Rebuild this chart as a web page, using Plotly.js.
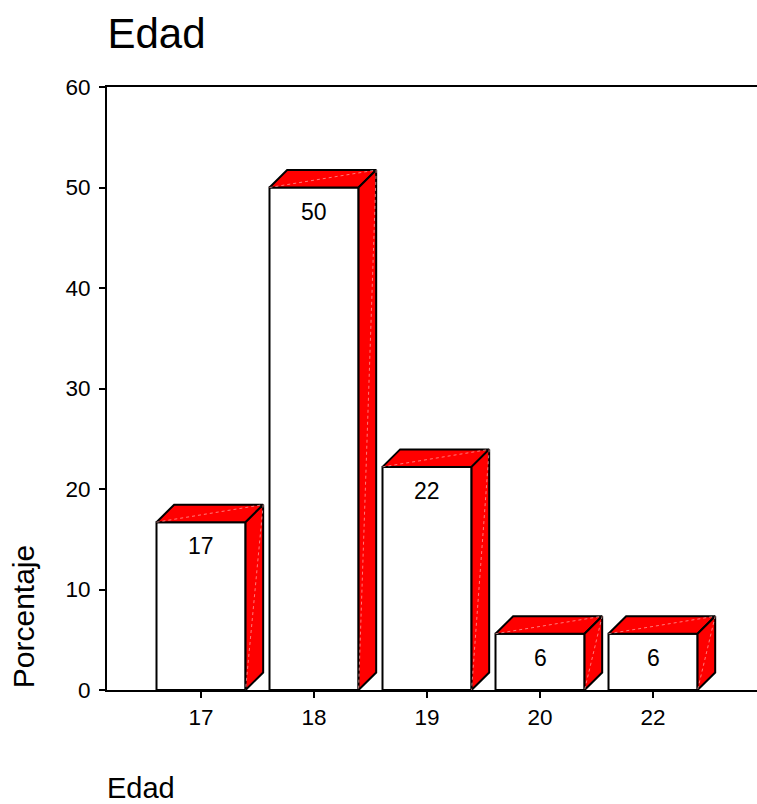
<!DOCTYPE html>
<html>
<head>
<meta charset="utf-8">
<script src="https://cdn.plot.ly/plotly-3.0.1.min.js"></script>
<style>html,body{margin:0;padding:0;background:#fff;}#chart{width:757px;height:804px;}</style>
</head>
<body>
<div id="chart"></div>
<script>
// Data
const categories = ['17', '18', '19', '20', '22'];
const percentages = [16.7, 50.0, 22.2, 5.6, 5.6];
const barLabels = ['17', '50', '22', '6', '6'];
const yTicks = [0, 10, 20, 30, 40, 50, 60];

// Geometry (styling of the pseudo-3D bars)
const W = 0.788;   // front face width (category units)
const DX = 0.156;  // depth offset x (category units)
const DY = 1.74;   // depth offset y (value units)
const FONT = 'Arial, "Liberation Sans", sans-serif';

const idx = categories.map((c, i) => i);

const topX = [], topY = [], sideX = [], sideY = [];
const hlX = [], hlY = [];
idx.forEach(i => {
  const v = percentages[i];
  const l = i - W / 2, r = i + W / 2;
  topX.push(l, l + DX, r + DX, r, l, null);
  topY.push(v, v + DY, v + DY, v, v, null);
  sideX.push(r, r + DX, r + DX, r, r, null);
  sideY.push(v, v + DY, DY, 0, v, null);
  hlX.push(l, r + DX, r, null);
  hlY.push(v, v + DY, 0, null);
});

const traces = [
  {
    type: 'bar', x: idx, y: percentages, width: W,
    marker: {color: '#ffffff', line: {color: '#000000', width: 2}},
    hoverinfo: 'skip', showlegend: false
  },
  {
    type: 'scatter', mode: 'lines', x: topX, y: topY, fill: 'toself',
    fillcolor: '#ff0000', line: {color: '#000000', width: 2},
    connectgaps: false, hoverinfo: 'skip', showlegend: false
  },
  {
    type: 'scatter', mode: 'lines', x: sideX, y: sideY, fill: 'toself',
    fillcolor: '#ff0000', line: {color: '#000000', width: 2},
    connectgaps: false, hoverinfo: 'skip', showlegend: false
  },
  {
    type: 'scatter', mode: 'lines', x: hlX, y: hlY,
    line: {color: 'rgba(255,170,170,0.9)', width: 0.8, dash: 'dot'},
    connectgaps: false, hoverinfo: 'skip', showlegend: false
  }
];

const annotations = idx.map(i => ({
  x: i, y: percentages[i], xref: 'x', yref: 'y',
  text: barLabels[i], showarrow: false,
  xanchor: 'center', yanchor: 'top', yshift: -9,
  font: {family: FONT, size: 23, color: '#000'}
}));
annotations.push({
  text: 'Porcentaje', textangle: -90, showarrow: false,
  xref: 'paper', yref: 'paper', x: -0.128, y: 0.122,
  xanchor: 'center', yanchor: 'middle',
  font: {family: FONT, size: 30, color: '#000'}
});
annotations.push({
  text: 'Edad', showarrow: false,
  xref: 'paper', yref: 'paper', x: -0.003, y: -0.163,
  xanchor: 'left', yanchor: 'middle',
  font: {family: FONT, size: 29, color: '#000'}
});

const layout = {
  width: 757, height: 804,
  margin: {l: 107, r: 0, t: 87, b: 114, pad: 0},
  paper_bgcolor: '#ffffff', plot_bgcolor: '#ffffff',
  title: {
    text: 'Edad', x: 0.142, xanchor: 'left', xref: 'container',
    y: 0.958, yanchor: 'middle', yref: 'container',
    font: {family: FONT, size: 42, color: '#000'}
  },
  xaxis: {
    range: [-0.832, 4.92], tickmode: 'array', tickvals: idx, ticktext: categories,
    showgrid: false, zeroline: false, showline: true, mirror: true,
    linecolor: '#000', linewidth: 2, ticks: 'outside', ticklen: 6, tickwidth: 2,
    tickcolor: '#000', tickfont: {family: FONT, size: 22.5, color: '#000'},
    fixedrange: true
  },
  yaxis: {
    range: [0, 60], tickmode: 'array', tickvals: yTicks,
    showgrid: false, zeroline: false, showline: true, mirror: false,
    linecolor: '#000', linewidth: 2, ticks: 'outside', ticklen: 6, tickwidth: 2,
    tickcolor: '#000', tickfont: {family: FONT, size: 22.5, color: '#000'},
    ticklabelstandoff: 4, fixedrange: true
  },
  annotations: annotations,
  showlegend: false,
  bargap: 0
};

Plotly.newPlot('chart', traces, layout, {displayModeBar: false, staticPlot: true});
</script>
</body>
</html>
